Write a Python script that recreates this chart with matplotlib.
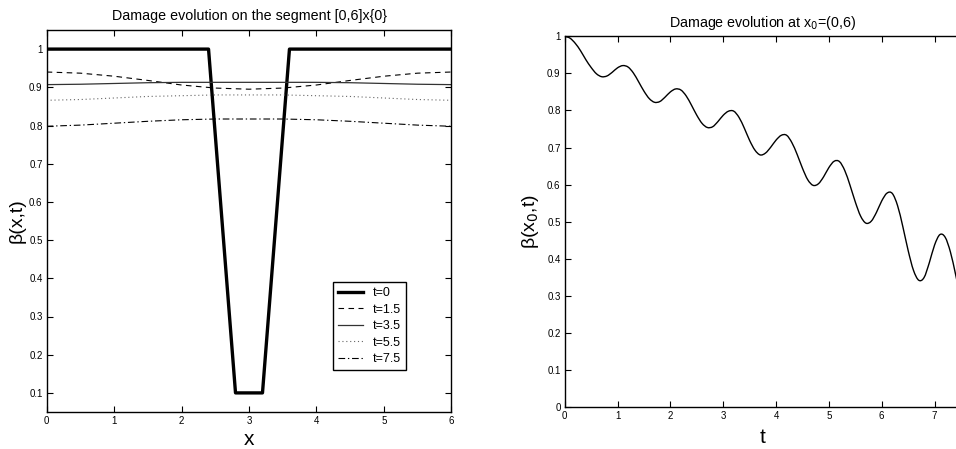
import numpy as np
import matplotlib
matplotlib.use("Agg")
import matplotlib.pyplot as plt
from matplotlib.ticker import FormatStrFormatter
from matplotlib.path import Path
from matplotlib.patches import PathPatch

plt.rcParams['font.family'] = ['Liberation Sans', 'DejaVu Sans']

# ---- Left panel: damage profiles along the segment ----
x_vals = [0.0, 0.5, 1.0, 1.5, 2.0, 2.5, 3.0, 3.5, 4.0, 4.5, 5.0, 5.5, 6.0]
beta_t15 = [0.940, 0.937, 0.929, 0.918, 0.906, 0.898, 0.895, 0.898, 0.906, 0.918, 0.929, 0.937, 0.940]
beta_t35 = [0.907, 0.908, 0.910, 0.912, 0.913, 0.913, 0.913, 0.913, 0.913, 0.912, 0.910, 0.908, 0.907]
beta_t55 = [0.866, 0.868, 0.872, 0.876, 0.878, 0.880, 0.880, 0.880, 0.878, 0.876, 0.872, 0.868, 0.866]
beta_t75 = [0.798, 0.801, 0.806, 0.811, 0.815, 0.817, 0.817, 0.817, 0.815, 0.811, 0.806, 0.801, 0.798]

x_init = [0.0, 2.4, 2.8, 3.2, 3.6, 6.0]
beta_init = [1.0, 1.0, 0.1, 0.1, 1.0, 1.0]

legend_labels = ['t=0', 't=1.5', 't=3.5', 't=5.5', 't=7.5']

# ---- Right panel: damage history at a fixed point ----
t_vals = [0.0, 0.1, 0.2, 0.3, 0.4, 0.5, 0.6, 0.7, 0.8, 0.9,
          1.0, 1.1, 1.2, 1.3, 1.4, 1.5, 1.6, 1.7, 1.8, 1.9,
          2.0, 2.1, 2.2, 2.3, 2.4, 2.5, 2.6, 2.7, 2.8, 2.9,
          3.0, 3.1, 3.2, 3.3, 3.4, 3.5, 3.6, 3.7, 3.8, 3.9,
          4.0, 4.1, 4.2, 4.3, 4.4, 4.5, 4.6, 4.7, 4.8, 4.9,
          5.0, 5.1, 5.2, 5.3, 5.4, 5.5, 5.6, 5.7, 5.8, 5.9,
          6.0, 6.1, 6.2, 6.3, 6.4, 6.5, 6.6, 6.7, 6.8, 6.9,
          7.0, 7.1, 7.2, 7.3, 7.4, 7.5]
beta_x0 = [1.000, 0.995, 0.981, 0.961, 0.937, 0.916, 0.899, 0.891, 0.893, 0.903,
           0.915, 0.921, 0.917, 0.901, 0.877, 0.852, 0.832, 0.822, 0.824, 0.836,
           0.850, 0.858, 0.855, 0.839, 0.814, 0.787, 0.765, 0.754, 0.756, 0.770,
           0.787, 0.798, 0.798, 0.781, 0.752, 0.719, 0.693, 0.680, 0.685, 0.701,
           0.720, 0.733, 0.733, 0.713, 0.681, 0.644, 0.613, 0.598, 0.602, 0.621,
           0.646, 0.663, 0.662, 0.638, 0.598, 0.553, 0.515, 0.496, 0.501, 0.525,
           0.556, 0.577, 0.576, 0.543, 0.486, 0.422, 0.369, 0.342, 0.349, 0.389,
           0.437, 0.465, 0.458, 0.418, 0.356, 0.289]

W, H = 956, 449
fig = plt.figure(figsize=(W / 100, H / 100), dpi=100)


def px_axes(left, top, right, bottom):
    return fig.add_axes([left / W, 1 - bottom / H, (right - left) / W, (bottom - top) / H])


def matlab_style(ax, right=True):
    ax.tick_params(direction='in', top=True, right=right, labelsize=7,
                   length=4, width=0.8, pad=3)
    for s in ax.spines.values():
        s.set_linewidth(1.0)
    ax.xaxis.set_major_formatter(FormatStrFormatter('%g'))
    ax.yaxis.set_major_formatter(FormatStrFormatter('%g'))


def smooth_path(xs, ys):
    """Catmull-Rom curve through the samples, expressed as cubic Bezier segments."""
    pts = np.column_stack([xs, ys])
    n = len(pts)
    verts = [pts[0]]
    codes = [Path.MOVETO]
    for i in range(n - 1):
        p0 = pts[i - 1] if i > 0 else pts[i]
        p1 = pts[i]
        p2 = pts[i + 1]
        p3 = pts[i + 2] if i + 2 < n else pts[i + 1]
        c1 = p1 + (p2 - p0) / 6.0
        c2 = p2 - (p3 - p1) / 6.0
        verts += [c1, c2, p2]
        codes += [Path.CURVE4] * 3
    return Path(verts, codes)


# Left axes
ax1 = px_axes(46.7, 30, 451.3, 412)
ax1.plot(x_init, beta_init, color='black', lw=2.4, label=legend_labels[0])
ax1.plot(x_vals, beta_t15, color='black', lw=0.8, ls=(0, (5, 4)), label=legend_labels[1])
ax1.plot(x_vals, beta_t35, color='#333333', lw=0.9, ls='-', label=legend_labels[2])
ax1.plot(x_vals, beta_t55, color='#666666', lw=0.8, ls=(0, (1, 2.5)), label=legend_labels[3])
ax1.plot(x_vals, beta_t75, color='black', lw=0.8, ls=(0, (6, 2.5, 1.2, 2.5)), label=legend_labels[4])
ax1.set_xlim(0, 6)
ax1.set_ylim(0.05, 1.05)
ax1.set_xticks(np.arange(0, 7, 1))
ax1.set_yticks(np.round(np.arange(0.1, 1.01, 0.1), 1))
matlab_style(ax1)
ax1.set_title('Damage evolution on the segment [0,6]x{0}', fontsize=10.3, pad=7)
ax1.set_xlabel('x', fontsize=15, labelpad=3)
ax1.set_ylabel('β(x,t)', fontsize=14, labelpad=2.5)
leg = ax1.legend(loc='lower left', bbox_to_anchor=(0.708, 0.11), fontsize=9,
                 frameon=True, fancybox=False, edgecolor='black', framealpha=1,
                 borderaxespad=0, handlelength=2.0, handletextpad=0.8,
                 labelspacing=0.35, borderpad=0.4)
leg.get_frame().set_linewidth(1.0)

# Right axes (extends past the figure's right edge)
ax2 = px_axes(564.7, 36.3, 961, 407)
ax2.add_patch(PathPatch(smooth_path(t_vals, beta_x0), facecolor='none',
                        edgecolor='black', lw=1.0))
ax2.set_xlim(0, 7.5)
ax2.set_ylim(0, 1)
ax2.set_xticks(np.arange(0, 8, 1))
ax2.set_yticks(np.round(np.arange(0, 1.01, 0.1), 1))
matlab_style(ax2, right=False)
ax2.set_title('Damage evolution at x$_0$=(0,6)', fontsize=10.3, pad=7)
ax2.set_xlabel('t', fontsize=15, labelpad=5)
ax2.set_ylabel('β(x$_0$,t)', fontsize=14, labelpad=4.5)

fig.savefig('out.png', dpi=100)
